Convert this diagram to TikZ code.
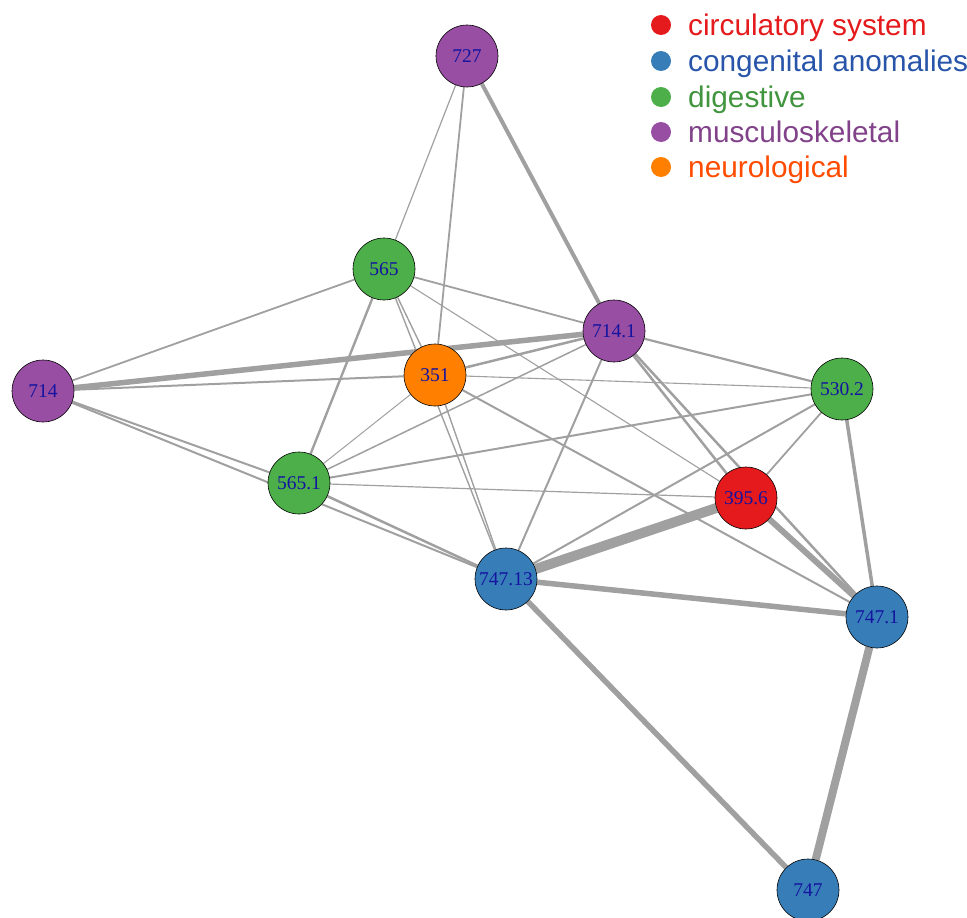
\documentclass[tikz,border=0pt]{standalone}
\usepackage{fontspec}
\setmainfont{Liberation Serif}
\setsansfont{Liberation Sans}
\usetikzlibrary{backgrounds}

\definecolor{circred}{HTML}{E41A1C}
\definecolor{congblue}{HTML}{377EB8}
\definecolor{digreen}{HTML}{4DAF4A}
\definecolor{muscpurple}{HTML}{984EA3}
\definecolor{neurorange}{HTML}{FF7F00}
\definecolor{labelblue}{RGB}{20,20,160}
\definecolor{linkgray}{RGB}{160,160,160}

\begin{document}
\begin{tikzpicture}[
      x=1pt, y=-1pt,
      vertex/.style={circle, draw=black, line width=0.6pt, minimum size=62pt, inner sep=0pt,
        font=\fontsize{19.5}{19.5}\selectfont, text=labelblue},
      link/.style={draw=linkgray, line width=#1},
      legdot/.style={circle, minimum size=20pt, inner sep=0pt},
      legtext/.style={anchor=base west, inner sep=0pt, font=\sffamily\fontsize{29.8}{29.8}\selectfont}
    ]
      \useasboundingbox (0,0) rectangle (967,918);

      % Vertices
      \node[vertex, fill=muscpurple] (n727) at (467,56) {727};
      \node[vertex, fill=digreen] (n565) at (384,269) {565};
      \node[vertex, fill=muscpurple] (n7141) at (614,331) {714.1};
      \node[vertex, fill=muscpurple] (n714) at (43,391) {714};
      \node[vertex, fill=neurorange] (n351) at (435,375) {351};
      \node[vertex, fill=digreen] (n5302) at (842,389) {530.2};
      \node[vertex, fill=digreen] (n5651) at (299,483) {565.1};
      \node[vertex, fill=circred] (n3956) at (746,498) {395.6};
      \node[vertex, fill=congblue] (n74713) at (506,579) {747.13};
      \node[vertex, fill=congblue] (n7471) at (877,617) {747.1};
      \node[vertex, fill=congblue] (n747) at (808,890) {747};

      % Links
      \begin{scope}[on background layer]
        \draw[link=1.2pt] (n727) -- (n565);
        \draw[link=1.8pt] (n727) -- (n351);
        \draw[link=4pt] (n727) -- (n7141);
        \draw[link=1.8pt] (n565) -- (n714);
        \draw[link=2.4pt] (n565) -- (n5651);
        \draw[link=1.4pt] (n565) -- (n351);
        \draw[link=1.4pt] (n565) -- (n74713);
        \draw[link=1.8pt] (n565) -- (n7141);
        \draw[link=1.1pt] (n565) -- (n3956);
        \draw[link=5.5pt] (n714) -- (n7141);
        \draw[link=2pt] (n714) -- (n351);
        \draw[link=2pt] (n714) -- (n5651);
        \draw[link=2pt] (n714) -- (n74713);
        \draw[link=2.5pt] (n351) -- (n7141);
        \draw[link=1.1pt] (n351) -- (n5302);
        \draw[link=1pt] (n351) -- (n5651);
        \draw[link=1.4pt] (n351) -- (n74713);
        \draw[link=2pt] (n351) -- (n7471);
        \draw[link=1.5pt] (n5651) -- (n7141);
        \draw[link=2pt] (n5651) -- (n5302);
        \draw[link=1.2pt] (n5651) -- (n3956);
        \draw[link=2.5pt] (n5651) -- (n74713);
        \draw[link=2.2pt] (n7141) -- (n5302);
        \draw[link=2.5pt] (n7141) -- (n3956);
        \draw[link=2.5pt] (n7141) -- (n7471);
        \draw[link=2pt] (n7141) -- (n74713);
        \draw[link=1.8pt] (n5302) -- (n3956);
        \draw[link=2pt] (n5302) -- (n74713);
        \draw[link=3.5pt] (n5302) -- (n7471);
        \draw[link=10pt] (n3956) -- (n74713);
        \draw[link=6pt] (n3956) -- (n7471);
        \draw[link=5.5pt] (n74713) -- (n7471);
        \draw[link=5.5pt] (n74713) -- (n747);
        \draw[link=8pt] (n7471) -- (n747);
      \end{scope}

      % Legend
      \node[legdot, fill=circred] (lgcirc) at (661,25) {};
      \node[legtext, text=circred] (lgcirctxt) at (688,35) {circulatory system};
      \node[legdot, fill=congblue] (lgcong) at (661,61) {};
      \node[legtext, text={rgb,255:red,40;green,85;blue,170}] (lgcongtxt) at (688,71) {congenital anomalies};
      \node[legdot, fill=digreen] (lgdig) at (661,97) {};
      \node[legtext, text=digreen!85!black] (lgdigtxt) at (688,107) {digestive};
      \node[legdot, fill=muscpurple] (lgmusc) at (661,132) {};
      \node[legtext, text=muscpurple!85!black] (lgmusctxt) at (688,142) {musculoskeletal};
      \node[legdot, fill=neurorange] (lgneur) at (661,167) {};
      \node[legtext, text=neurorange!60!red] (lgneurtxt) at (688,177) {neurological};
    \end{tikzpicture}
\end{document}
